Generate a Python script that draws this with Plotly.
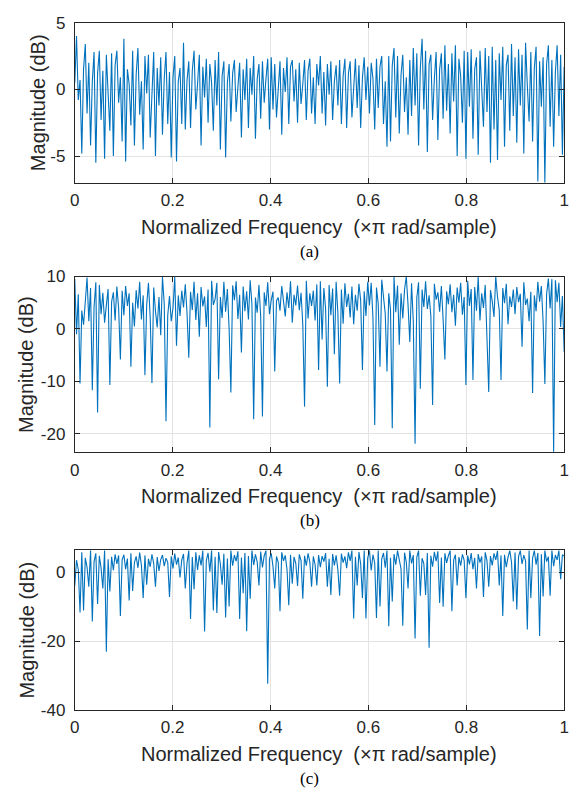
import numpy as np
import plotly.graph_objects as go

# ---------------- data ----------------
mag_a = [
    0.5, 4.0, -0.8, 0.7, -4.8, 1.5, 3.4, -1.8, 2.0, -4.2, 0.6, 2.8, -5.5, 1.2,
    2.9, -2.3, 1.4, -5.2, 2.6, 0.2, -3.1, 2.7, -5.0, 1.8, 2.9, -1.0, 0.9, -3.9,
    3.8, -5.4, 1.5, 0.4, -2.7, 2.9, -4.2, 1.1, 3.1, -1.9, 0.6, -4.5, 2.5, -0.3,
    2.6, -3.6, 0.4, 2.8, -5.0, 1.6, -1.2, 2.4, -3.4, 0.8, 2.8, -2.6, 1.3, -5.1,
    0.9, 2.5, -5.4, 0.6, 1.6, -2.6, 3.5, -3.0, 0.7, 2.1, -2.9, 1.4, 2.9, -1.5,
    0.4, 2.6, -4.2, 1.7, -0.6, 2.3, -2.5, 1.9, 0.5, -3.1, 2.2, -1.2, 2.8, -4.5,
    1.0, 2.1, -5.1, 0.5, 1.9, -2.4, 1.2, 2.2, -1.7, 0.3, 2.0, -3.6, 1.5, -0.8,
    2.3, -2.9, 1.6, -0.4, 2.5, -3.7, 0.8, 1.9, -2.2, 2.1, -1.0, 0.8, 2.3, -3.0,
    2.4, -1.5, 1.9, -2.1, 0.5, 2.1, -3.4, 1.6, -0.2, 2.4, -2.6, 1.7, 2.2, -0.9,
    1.5, -2.5, 2.0, -1.1, 0.4, 2.2, -2.3, 1.4, 2.3, -1.8, 0.9, -2.6, 1.9, 0.3,
    2.5, -1.8, 1.3, -2.7, 1.9, -0.4, 2.1, -2.3, 0.6, 1.8, -1.2, 2.2, -2.6, 1.0,
    2.3, -2.9, 1.2, 2.1, -2.1, 0.4, 2.3, -1.4, 1.8, -2.9, 0.9, 2.4, -0.8, 1.7,
    -1.8, 2.0, 0.8, -3.0, 2.3, -1.4, 1.7, 2.5, -2.6, 0.6, -4.3, 2.5, -3.9, 1.8,
    3.1, -2.1, 2.5, -3.3, 1.1, 2.6, -1.7, 0.9, -3.4, 2.2, -2.0, 3.1, -1.2, 2.7,
    -4.2, 1.6, 3.8, -1.5, 2.9, -4.7, 1.9, 2.6, -2.3, 0.8, 2.8, -3.8, 1.5, 2.7,
    -2.2, 3.3, -1.6, 1.9, -3.3, 2.7, -0.9, 3.3, -5.0, 2.3, 1.0, -2.5, 2.9, -5.2,
    2.8, -1.3, 3.0, -3.7, 1.5, 2.4, -4.9, 2.9, 0.4, -2.8, 3.1, -1.7, 2.5, -5.5,
    3.2, -3.0, 2.2, -5.3, 2.7, -0.8, 3.2, -4.3, 1.8, 2.6, -3.1, 3.4, -2.0, 2.4,
    -4.0, 3.0, -1.2, 2.6, -4.8, 3.5, 0.3, -2.4, 2.8, -3.9, 1.6, 3.2, -6.9, 2.1,
    -1.3, 2.4, -7.0, 1.9, 3.3, -2.8, 2.2, -4.3, 1.3, 3.3, -2.0, 2.6, -4.9, 1.7,
]

mag_b = [
    9.5, -1.0, 6.6, -10.4, 3.5, 0.8, 5.2, 9.8, 1.5, 7.8, -11.7, 4.2, 8.9, -15.9,
    8.4, 2.8, 6.9, 1.2, 4.5, 7.6, -10.7, 5.2, 7.0, 1.6, 8.1, 4.0, -5.8, 7.3,
    2.6, 8.2, 4.4, 6.8, -7.2, 5.0, 0.5, 7.4, 3.9, 9.0, 1.8, 6.4, -8.8, 4.6,
    8.8, 2.2, -10.3, 7.9, 3.4, 0.3, 6.1, -1.2, 9.9, 4.8, -17.6, 2.6, 6.3, 1.5,
    4.0, 9.9, -3.2, 6.4, 2.5, 7.3, 4.1, 8.5, 3.0, -5.5, 7.1, 3.6, 9.0, 1.7,
    6.8, -1.5, 8.0, 4.3, 6.2, 0.4, 7.5, -18.8, 9.2, 4.6, 5.7, 8.8, -9.6, 6.1,
    2.1, 9.0, 3.3, 7.6, 0.0, -12.1, 8.3, 5.5, 9.1, 1.9, 6.5, -4.5, 8.1, 3.4,
    7.2, 1.8, 9.3, 4.7, -17.2, 6.0, 3.1, 8.4, 2.3, -16.7, 7.0, 4.4, 8.9, 2.8,
    5.5, 7.1, -8.1, 5.4, 6.0, 3.5, 8.2, 4.9, 2.4, 7.0, 4.0, 9.1, 1.2, 6.5,
    4.5, 8.3, 3.6, 6.9, 0.8, -14.8, 9.2, 2.0, 6.8, 4.4, 7.3, 1.6, 8.5, -7.8,
    9.1, -2.0, 7.8, 3.9, -11.0, 8.4, 2.6, 7.7, -4.8, 9.0, 3.0, -10.4, 7.5, 1.0,
    8.7, 4.2, 6.7, 2.2, 8.1, 0.9, 6.5, 3.5, 8.6, 5.4, -7.8, 7.2, 2.5, 9.0,
    4.5, 8.8, 2.1, -18.3, 7.9, 4.8, -7.2, 9.4, 6.2, 2.9, -8.1, 6.8, 3.7, -18.9,
    10.0, 3.2, 8.3, -3.0, 6.8, 2.0, 7.5, 10.0, 4.6, -2.5, 8.7, 1.4, -21.9, 6.0,
    8.9, -11.4, 7.5, 4.2, 9.1, 3.8, 6.4, 2.5, -14.5, 8.6, 5.6, 7.0, 3.3, 8.2,
    1.8, -5.8, 7.2, 4.7, 8.5, 3.2, 6.5, 0.6, 7.9, 5.0, 8.8, 2.7, 6.1, -10.7,
    9.2, 4.4, 7.6, -9.7, 8.0, 3.5, 9.9, 1.6, 6.8, 4.0, 8.4, -1.5, -12.0, 7.4,
    5.3, 2.3, 10.0, 6.1, 3.6, -9.7, 7.8, 4.9, 8.6, 0.9, 6.2, 4.2, 7.5, 2.8,
    8.0, 5.1, 6.7, -3.4, 8.9, 4.6, 5.8, 1.5, 7.1, -12.2, 6.4, 3.4, 9.0, 5.2,
    8.2, 1.4, -10.5, 6.7, 9.6, 3.9, 9.5, -23.4, 9.3, 5.1, 8.8, 0.4, 6.3, -4.4,
]

mag_c = [
    -3.9, 3.5, 0.8, -11.7, 5.8, -11.1, 4.2, 1.5, -4.2, 6.3, -14.3, 3.1, 5.5, -9.2,
    4.8, 1.2, -4.7, 6.3, -23.1, 3.8, -5.6, 4.5, 0.6, 5.2, 2.4, 4.9, -12.7, 3.6,
    5.1, 0.9, 4.0, -8.2, 5.5, -5.4, 2.8, 4.6, 1.3, 5.7, 2.0, -7.5, 4.9, -3.6,
    3.9, 1.6, 5.2, 2.5, -4.2, 4.4, 0.4, 3.7, 5.0, 1.8, 4.1, 2.9, -7.2, 4.6,
    1.1, 5.4, 2.2, 4.3, -1.5, 3.6, 5.3, -4.7, 2.7, 6.3, -13.6, 4.4, -4.9, 5.8,
    0.7, 4.9, 2.0, 6.3, -17.2, 3.4, 5.6, 0.2, 6.3, -11.1, 4.5, -11.8, 5.9, 2.4,
    -3.6, 5.4, -13.1, 4.0, -9.9, 6.3, 1.9, 5.0, 3.2, 6.1, -13.6, 4.3, -6.1, 5.6,
    -17.1, 4.7, -7.7, 6.3, 2.1, 5.2, 3.0, -3.8, 6.0, 1.4, 4.8, 6.3, -32.4, 3.9,
    5.5, 1.7, -4.7, 4.6, 2.9, -11.3, 5.8, 3.3, 4.9, 0.8, -9.6, 5.1, -3.3, 4.5,
    2.6, -4.0, 5.2, 3.4, -7.7, 4.8, 1.9, 5.5, 3.0, -4.2, 4.6, 2.2, -3.8, 5.0,
    1.5, 4.7, 3.1, 5.6, -4.2, 3.9, -6.6, 5.3, 2.0, 4.9, 0.7, -6.8, 5.4, 2.8,
    4.6, 1.2, 5.8, 3.3, 6.3, -13.4, 4.5, -3.8, 5.9, 2.4, -7.5, 6.3, -13.4, 4.1,
    6.3, 0.5, 5.1, 2.7, -13.3, 6.3, -9.9, 3.9, 5.6, 1.3, 6.3, -15.7, 4.2, -8.5,
    5.3, 2.2, 6.3, 3.5, 1.0, -15.5, 5.7, 3.0, -4.7, 6.3, 2.6, 5.0, -19.2, 4.4,
    6.3, -6.8, 4.1, 2.5, -6.6, 5.6, -21.9, 4.8, 1.6, 5.9, 3.2, 6.1, -8.9, 4.3,
    -10.0, 5.5, 2.7, 4.8, 6.3, -11.3, 3.6, 5.1, -3.8, 4.4, 1.9, 5.2, 3.5, -7.5,
    4.9, 2.3, 5.6, 0.9, 4.2, -4.7, 5.3, 2.8, 4.6, -7.2, 5.8, 3.4, -4.2, 4.7,
    2.0, 5.5, 3.6, 6.2, -3.8, 4.9, -12.7, 5.1, 1.5, 4.4, 6.3, 2.9, -8.5, 5.7,
    -10.8, 4.6, 6.3, 2.4, 5.0, 3.3, -16.6, 6.3, -7.5, 4.1, 6.3, 2.2, 5.6, -18.5,
    5.2, -7.0, 6.3, 3.1, 4.5, -6.8, 6.3, 1.8, 5.0, 3.6, 6.3, -2.0, 5.1, 4.7,
]

x_ticks = [0, 0.2, 0.4, 0.6, 0.8, 1]
x_tick_labels = ["0", "0.2", "0.4", "0.6", "0.8", "1"]
y_ticks_a = [-5, 0, 5]
y_tick_labels_a = ["-5", "0", "5"]
y_ticks_b = [-20, -10, 0, 10]
y_tick_labels_b = ["-20", "-10", "0", "10"]
y_ticks_c = [-40, -20, 0]
y_tick_labels_c = ["-40", "-20", "0"]
y_ranges = [[-7, 5], [-23.5, 10], [-40, 6.5]]
captions = ["(a)", "(b)", "(c)"]
x_title = "Normalized Frequency  (×π rad/sample)"
y_title = "Magnitude (dB)"

# ---------------- figure ----------------
W, H = 578, 803
LINE = "#0072BD"
AX = "#262626"
GRID = "#e3e3e3"
FONT = "Liberation Sans, Arial, sans-serif"

# plot-area pixel boxes (top, bottom)
boxes = [(14, 178), (274, 454), (554, 718)]
x_left, x_right = 71, 569

fig = go.Figure()
mags = [mag_a, mag_b, mag_c]
yticks = [y_ticks_a, y_ticks_b, y_ticks_c]
yticklabels = [y_tick_labels_a, y_tick_labels_b, y_tick_labels_c]
ylab_x = [33, 22, 22]

for i, mag in enumerate(mags):
    freq = np.linspace(0, 1, len(mag))
    xa = "x" if i == 0 else f"x{i+1}"
    ya = "y" if i == 0 else f"y{i+1}"
    fig.add_trace(go.Scatter(x=freq, y=mag, mode="lines",
                             line=dict(color=LINE, width=1.1),
                             xaxis=xa, yaxis=ya, showlegend=False,
                             hoverinfo="skip"))
    top, bot = boxes[i]
    xkey = "xaxis" if i == 0 else f"xaxis{i+1}"
    ykey = "yaxis" if i == 0 else f"yaxis{i+1}"
    fig.layout[xkey] = dict(
        domain=[x_left / W, x_right / W], anchor=ya, range=[0, 1],
        tickmode="array", tickvals=x_ticks, ticktext=x_tick_labels,
        ticks="inside", ticklen=5, tickcolor=AX, tickwidth=1,
        showline=True, linecolor=AX, linewidth=1, mirror="ticks",
        showgrid=True, gridcolor=GRID, gridwidth=1, zeroline=False,
        tickfont=dict(family=FONT, size=17, color=AX),
        ticklabelstandoff=2,
    )
    fig.layout[ykey] = dict(
        domain=[1 - bot / H, 1 - top / H], anchor=xa, range=y_ranges[i],
        tickmode="array", tickvals=yticks[i], ticktext=yticklabels[i],
        ticks="inside", ticklen=5, tickcolor=AX, tickwidth=1,
        showline=True, linecolor=AX, linewidth=1, mirror="ticks",
        showgrid=True, gridcolor=GRID, gridwidth=1, zeroline=False,
        tickfont=dict(family=FONT, size=17, color=AX),
        ticklabelstandoff=5,
    )
    # axis titles and caption
    fig.add_annotation(x=(x_left + x_right) / 2 / W, y=1 - (bot + 45) / H,
                       xref="paper", yref="paper", text=x_title, showarrow=False,
                       font=dict(family=FONT, size=20, color=AX),
                       xanchor="center", yanchor="middle")
    fig.add_annotation(x=ylab_x[i] / W, y=1 - (top + bot) / 2 / H,
                       xref="paper", yref="paper", text=y_title, showarrow=False,
                       textangle=-90,
                       font=dict(family=FONT, size=20, color=AX),
                       xanchor="center", yanchor="middle")
    fig.add_annotation(x=310 / W, y=1 - (bot + 70) / H,
                       xref="paper", yref="paper", text=captions[i], showarrow=False,
                       font=dict(family="Liberation Serif, Times New Roman, serif",
                                 size=17, color="#000000"),
                       xanchor="center", yanchor="middle")

fig.update_layout(width=W, height=H, margin=dict(l=0, r=0, t=0, b=0),
                  paper_bgcolor="white", plot_bgcolor="white")

fig.write_html("out.html")
